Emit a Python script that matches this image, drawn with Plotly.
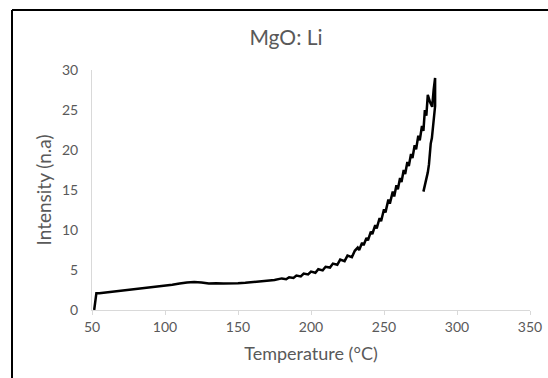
import plotly.graph_objects as go

# Heating branch then the small return branch (temperature in °C, intensity in n.a)
temperature = [
    51.5, 53, 55, 60, 65, 70, 75, 80, 85, 90, 95, 100, 105, 110, 115, 120, 125, 130,
    135, 140, 145, 150, 155, 160, 165, 170, 175, 180, 183, 185, 188, 190, 193, 195,
    198, 200, 203, 205, 208, 210, 213, 215, 218, 220, 223, 225, 228, 230,
    232, 233, 235, 236, 238, 239, 241, 242, 244, 245, 247, 248, 250, 251, 253, 254,
    256, 257, 258.5, 259.5, 261, 262, 263.5, 264.5, 266, 267, 268.5, 269.5, 271, 272,
    273.5, 274.5, 276, 277, 278, 279, 280, 281.5, 283, 284, 285,
    285, 284.3, 283.5, 282.8, 282, 281.5, 280.8, 280, 279.2, 278.3, 277.5, 277,
]
intensity = [
    0.0, 2.1, 2.1, 2.2, 2.3, 2.4, 2.5, 2.65, 2.75, 2.85, 2.95, 3.05, 3.15, 3.3, 3.45, 3.5, 3.45, 3.3,
    3.35, 3.3, 3.3, 3.35, 3.4, 3.5, 3.6, 3.65, 3.75, 3.95, 3.85, 4.1, 4.0, 4.3, 4.2, 4.55,
    4.45, 4.8, 4.65, 5.1, 4.95, 5.4, 5.3, 5.8, 5.65, 6.3, 6.1, 6.8, 6.6, 7.4,
    7.8, 7.5, 8.4, 8.1, 9.0, 8.7, 9.8, 9.5, 10.6, 10.2, 11.5, 11.1, 12.6, 12.2, 13.8, 13.3,
    14.8, 14.2, 15.6, 15.1, 16.5, 16.0, 17.5, 17.0, 18.5, 18.0, 19.5, 19.0, 20.6, 20.1,
    21.8, 21.2, 23.0, 22.4, 25.0, 24.3, 26.9, 26.0, 25.4, 27.5, 29.0,
    25.5, 24.0, 22.3, 21.5, 20.8, 19.5, 18.2, 17.2, 16.5, 16.0, 15.3, 14.8,
]

x_ticks = [50, 100, 150, 200, 250, 300, 350]
y_ticks = [0, 5, 10, 15, 20, 25, 30]

FONT = "Lato"
GREY_TXT = "#595959"
GREY_LINE = "#d9d9d9"

fig = go.Figure()
fig.add_trace(go.Scatter(
    x=temperature, y=intensity, mode="lines",
    line=dict(color="black", width=2.5),
    showlegend=False, hoverinfo="skip",
))

W, H = 548, 378
ml, mr, mt, mb = 92, 18, 70, 68
pw, ph = W - ml - mr, H - mt - mb
def px(xp):  # window pixel -> paper x
    return (xp - ml) / pw
def py(yp):  # window pixel -> paper y
    return (H - mb - yp) / ph

fig.update_layout(
    width=W, height=H,
    margin=dict(l=ml, r=mr, t=mt, b=mb, autoexpand=False),
    paper_bgcolor="white", plot_bgcolor="white",
    font=dict(family=FONT, color=GREY_TXT, size=14),
    title=dict(text="MgO: Li", x=px(286), xref="paper", xanchor="center",
               y=1 - 38 / H, yanchor="middle",
               font=dict(family=FONT, size=21, color=GREY_TXT)),
    xaxis=dict(
        range=[50, 350], tickvals=x_ticks, ticktext=[str(v) for v in x_ticks],
        showgrid=False, zeroline=False, showline=True, linecolor=GREY_LINE, linewidth=1,
        ticks="outside", ticklen=4, tickcolor=GREY_LINE, automargin=False,
        tickfont=dict(size=14, color=GREY_TXT),
        title=dict(text="Temperature (°C)", font=dict(size=18, color=GREY_TXT), standoff=13),
    ),
    yaxis=dict(
        range=[0, 30], tickvals=y_ticks, ticktext=[str(v) for v in y_ticks],
        showgrid=False, zeroline=False, showline=True, linecolor=GREY_LINE, linewidth=1,
        ticks="", ticklabelstandoff=10, automargin=False,
        tickfont=dict(size=14, color=GREY_TXT),
        title=dict(text="Intensity (n.a)", font=dict(size=19, color=GREY_TXT), standoff=5),
    ),
    shapes=[
        dict(type="line", xref="paper", yref="paper", x0=px(12), x1=px(560),
             y0=py(10), y1=py(10), line=dict(color="black", width=2)),
        dict(type="line", xref="paper", yref="paper", x0=px(12), x1=px(12),
             y0=py(10), y1=py(390), line=dict(color="black", width=2)),
    ],
)

fig.write_html(
    "out.html",
    config={"displayModeBar": False},
    post_script="document.body.style.margin='0';document.body.style.overflow='hidden';",
)
